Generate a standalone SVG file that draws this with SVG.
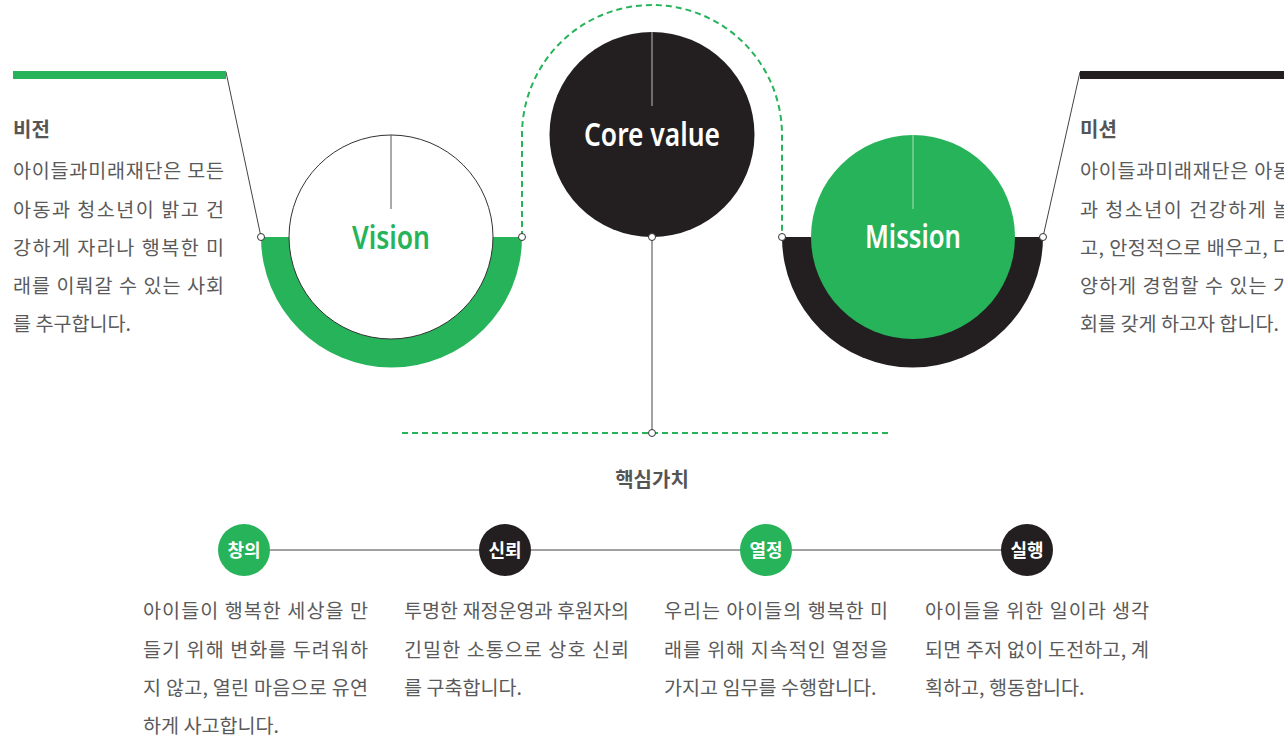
<svg xmlns="http://www.w3.org/2000/svg" width="1284" height="742" viewBox="0 0 1284 742">
<style>
.ttl{font-family:"Noto Sans CJK KR","Noto Sans",sans-serif;font-weight:700;font-size:20px;fill:#555}
.p{font-family:"Noto Sans CJK KR","Noto Sans",sans-serif;font-weight:400;font-size:19.6px;fill:#5a5a5a}
.big{font-family:"Noto Sans","Noto Sans CJK KR",sans-serif;font-weight:600;font-size:33px;text-anchor:middle}
.lab{font-family:"Noto Sans CJK KR",sans-serif;font-weight:700;font-size:18px;fill:#fff;text-anchor:middle}
.dot{fill:#fff;stroke:#333;stroke-width:1}
.ln{stroke:#444;stroke-width:1;fill:none}
.dash{stroke:#27b35a;stroke-width:2;fill:none;stroke-dasharray:6 4}
</style>
<rect width="1284" height="742" fill="#fff"/>

<g id="connectors">
  <path class="ln" d="M226,72 L261,237"/>
  <path class="ln" d="M1080,72 L1043,237"/>
  <path class="dash" d="M522,237 L522,135 A130,130 0 0 1 782,135 L782,237"/>
  <path class="ln" d="M652,237 L652,433" stroke="#555"/>
  <path class="dash" d="M402,433 L890,433" stroke-dasharray="8 5"/>
  <path class="ln" d="M244,550 L1027,550" stroke="#333"/>
</g>

<g id="vision-text">
  <rect x="13" y="71" width="213" height="8" fill="#27b35a"/>
  <text class="ttl" x="13" y="137">비전</text>
  <text class="p" x="13" y="178" textLength="211" lengthAdjust="spacing">아이들과미래재단은 모든</text>
  <text class="p" x="13" y="217" textLength="211" lengthAdjust="spacing">아동과 청소년이 밝고 건</text>
  <text class="p" x="13" y="255" textLength="211" lengthAdjust="spacing">강하게 자라나 행복한 미</text>
  <text class="p" x="13" y="293" textLength="211" lengthAdjust="spacing">래를 이뤄갈 수 있는 사회</text>
  <text class="p" x="13" y="331">를 추구합니다.</text>
</g>

<g id="vision">
  <path d="M261,237 A130.5,130.5 0 0 0 522,237 Z" fill="#27b35a"/>
  <circle cx="391" cy="237" r="102" fill="#fff" stroke="#333" stroke-width="1"/>
  <line x1="391" y1="135" x2="391" y2="209" stroke="#555" stroke-width="1"/>
  <text class="big" x="391" y="249" fill="#27b35a" textLength="78" lengthAdjust="spacingAndGlyphs">Vision</text>
</g>

<g id="core-value">
  <circle cx="652" cy="134.5" r="102.5" fill="#231f20"/>
  <line x1="652" y1="32" x2="652" y2="106" stroke="#bbb" stroke-width="1"/>
  <text class="big" x="652" y="146" fill="#fff" textLength="136" lengthAdjust="spacingAndGlyphs">Core value</text>
</g>

<g id="mission">
  <path d="M782,237 A130.5,130.5 0 0 0 1043,237 Z" fill="#231f20"/>
  <circle cx="913" cy="237" r="102" fill="#27b35a"/>
  <line x1="913" y1="135" x2="913" y2="209" stroke="#a9dfbc" stroke-width="1"/>
  <text class="big" x="913" y="248" fill="#fff" textLength="96" lengthAdjust="spacingAndGlyphs">Mission</text>
</g>

<g id="mission-text">
  <rect x="1080" y="71" width="204" height="8" fill="#231f20"/>
  <text class="ttl" x="1080" y="137">미션</text>
  <text class="p" x="1080" y="178" textLength="211" lengthAdjust="spacing">아이들과미래재단은 아동</text>
  <text class="p" x="1080" y="217" textLength="211" lengthAdjust="spacing">과 청소년이 건강하게 놀</text>
  <text class="p" x="1080" y="255" textLength="211" lengthAdjust="spacing">고, 안정적으로 배우고, 다</text>
  <text class="p" x="1080" y="293" textLength="211" lengthAdjust="spacing">양하게 경험할 수 있는 가</text>
  <text class="p" x="1080" y="331">회를 갖게 하고자 합니다.</text>
</g>

<g id="dots">
  <circle class="dot" cx="261" cy="237" r="3.5"/>
  <circle class="dot" cx="522" cy="237" r="3.5"/>
  <circle class="dot" cx="652" cy="237" r="3.5"/>
  <circle class="dot" cx="782" cy="237" r="3.5"/>
  <circle class="dot" cx="1043" cy="237" r="3.5"/>
  <circle class="dot" cx="652" cy="433" r="3.5"/>
</g>

<g id="core-title">
  <text class="ttl" x="652" y="487" text-anchor="middle">핵심가치</text>
</g>

<g id="creativity">
  <circle cx="244" cy="550" r="26" fill="#27b35a"/>
  <text class="lab" x="244" y="557">창의</text>
  <text class="p" x="143" y="618" textLength="225" lengthAdjust="spacing">아이들이 행복한 세상을 만</text>
  <text class="p" x="143" y="657" textLength="225" lengthAdjust="spacing">들기 위해 변화를 두려워하</text>
  <text class="p" x="143" y="695" textLength="225" lengthAdjust="spacing">지 않고, 열린 마음으로 유연</text>
  <text class="p" x="143" y="733">하게 사고합니다.</text>
</g>

<g id="trust">
  <circle cx="505" cy="550" r="26" fill="#231f20"/>
  <text class="lab" x="505" y="557">신뢰</text>
  <text class="p" x="404" y="618" textLength="225" lengthAdjust="spacing">투명한 재정운영과 후원자의</text>
  <text class="p" x="404" y="657" textLength="225" lengthAdjust="spacing">긴밀한 소통으로 상호 신뢰</text>
  <text class="p" x="404" y="695">를 구축합니다.</text>
</g>

<g id="passion">
  <circle cx="766" cy="550" r="26" fill="#27b35a"/>
  <text class="lab" x="766" y="557">열정</text>
  <text class="p" x="664" y="618" textLength="224" lengthAdjust="spacing">우리는 아이들의 행복한 미</text>
  <text class="p" x="664" y="657" textLength="224" lengthAdjust="spacing">래를 위해 지속적인 열정을</text>
  <text class="p" x="664" y="695">가지고 임무를 수행합니다.</text>
</g>

<g id="action">
  <circle cx="1027" cy="550" r="26" fill="#231f20"/>
  <text class="lab" x="1027" y="557">실행</text>
  <text class="p" x="925" y="618" textLength="224" lengthAdjust="spacing">아이들을 위한 일이라 생각</text>
  <text class="p" x="925" y="657" textLength="224" lengthAdjust="spacing">되면 주저 없이 도전하고, 계</text>
  <text class="p" x="925" y="695">획하고, 행동합니다.</text>
</g>
</svg>
